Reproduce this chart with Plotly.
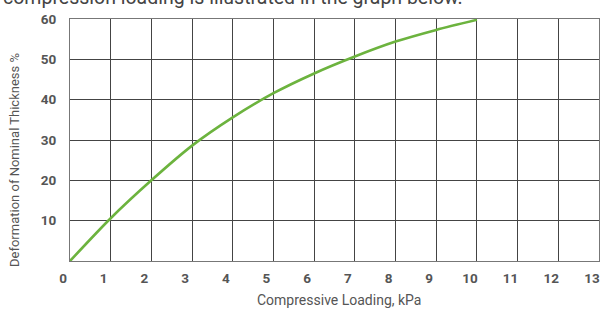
import plotly.graph_objects as go

load_kpa = [0, 1, 2, 3, 4, 5, 6, 7, 8, 9, 10]
deformation_pct = [0, 10.6, 20, 28.6, 35.6, 41.6, 46.5, 50.7, 54.4, 57.3, 59.8]
x_ticks = list(range(0, 14))
y_ticks = [10, 20, 30, 40, 50, 60]

FONT = "Roboto, Liberation Sans, sans-serif"
TXT = "#555555"

L, T = 70, 19
PW, PH = 529, 242

fig = go.Figure()
fig.add_trace(go.Scatter(x=load_kpa, y=deformation_pct, mode="lines",
                         line=dict(color="#6cb33e", width=2.6, shape="spline", smoothing=0.8),
                         hoverinfo="skip", showlegend=False))

fig.update_layout(
    width=600, height=309,
    margin=dict(l=L, r=600 - L - PW, t=T, b=309 - T - PH, autoexpand=False),
    paper_bgcolor="white", plot_bgcolor="white",
    font=dict(family=FONT, color=TXT),
    xaxis=dict(range=[0, 13], tickvals=x_ticks, ticktext=[str(v) for v in x_ticks],
               showgrid=True, gridcolor="#444444", gridwidth=1,
               showline=True, linecolor="#777777", linewidth=1, mirror=True,
               zeroline=False, ticks="", ticklabelstandoff=5, ticklabelshift=-7,
               ticklabeloverflow="allow", automargin=False,
               tickfont=dict(size=13.5, family=FONT, color=TXT, weight="bold")),
    yaxis=dict(range=[0, 60], tickvals=y_ticks, ticktext=[str(v) for v in y_ticks],
               showgrid=True, gridcolor="#444444", gridwidth=1,
               showline=True, linecolor="#777777", linewidth=1, mirror=True,
               zeroline=False, ticks="", ticklabelstandoff=10, automargin=False,
               ticklabeloverflow="allow",
               tickfont=dict(size=13.5, family=FONT, color=TXT, weight="bold")),
    annotations=[
        dict(text="Deformation of Nominal Thickness %", textangle=-90,
             xref="paper", yref="paper", x=(14 - L) / PW, y=(261 - 160) / PH,
             xanchor="center", yanchor="middle", showarrow=False,
             font=dict(size=13, family=FONT, color=TXT)),
        dict(text="Compressive Loading, kPa",
             xref="paper", yref="paper", x=(339 - L) / PW, y=(261 - 300) / PH,
             xanchor="center", yanchor="middle", showarrow=False,
             font=dict(size=14, family=FONT, color=TXT)),
        dict(text="compression loading is illustrated in the graph below.",
             xref="paper", yref="paper", x=(1 - L) / PW, y=(261 + 3) / PH,
             xanchor="left", yanchor="middle", showarrow=False,
             font=dict(size=19.5, family=FONT, color="#444444")),
    ],
)

fig.write_html("out.html", config={"displayModeBar": False},
               post_script="document.body.style.margin='0';")
